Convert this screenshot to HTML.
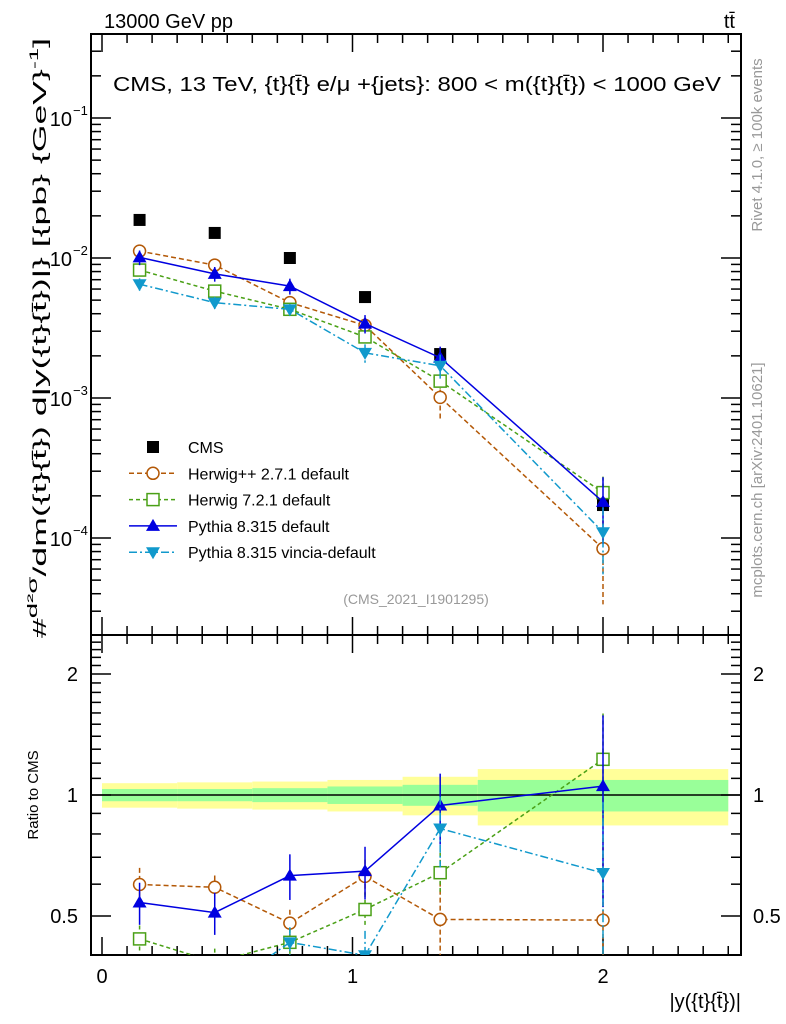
<!DOCTYPE html>
<html><head><meta charset="utf-8"><style>
html,body{margin:0;padding:0;background:#fff;overflow:hidden;width:786px;height:1024px}
svg{display:block;font-family:"Liberation Sans",sans-serif;overflow:hidden}
</style></head><body>
<svg id="c" width="786" height="1024" viewBox="0 0 786 1024" xmlns="http://www.w3.org/2000/svg">
<text x="104" y="28" font-size="20">13000 GeV pp</text>
<text x="735" y="28" font-size="20" text-anchor="end">tt̄</text>
<text x="113" y="91" font-size="20" textLength="608" lengthAdjust="spacingAndGlyphs">CMS, 13 TeV, {t}{t̄} e/μ +{jets}: 800 &lt; m({t}{t̄}) &lt; 1000 GeV</text>
<text transform="translate(46,638) rotate(-90)" font-size="18" textLength="600" lengthAdjust="spacingAndGlyphs">#<tspan font-size="14" dy="-9">d²σ</tspan><tspan dy="9">/dm({t}{t̄})</tspan> d|y({t}{t̄})|} [{pb} {GeV}<tspan font-size="12" dy="-8">-1</tspan><tspan dy="8">]</tspan></text>
<text transform="translate(762,145) rotate(-90)" font-size="15" fill="#999" text-anchor="middle">Rivet 4.1.0, ≥ 100k events</text>
<text transform="translate(762,480) rotate(-90)" font-size="15" fill="#999" text-anchor="middle">mcplots.cern.ch [arXiv:2401.10621]</text>
<text x="416" y="604" font-size="14" fill="#999" text-anchor="middle">(CMS_2021_I1901295)</text>
<text transform="translate(38,795) rotate(-90)" font-size="15" text-anchor="middle">Ratio to CMS</text>
<text x="741" y="1008" font-size="20" text-anchor="end">|y({t}{t̄})|</text>
<g id="g"></g>
</svg>
<script>
const xCenters=[0.15,0.45,0.75,1.05,1.35,2.0];
const binEdges=[0,0.3,0.6,0.9,1.2,1.5,2.5];
const cmsVals=[0.0187,0.0151,0.0100,0.00526,0.00206,0.000172];
const cmsErr=[0.07,0.075,0.08,0.09,0.11,0.16];
const cmsErrInner=[0.035,0.035,0.04,0.05,0.06,0.09];
const herwigppVals=[0.0112,0.0089,0.0048,0.0033,0.00101,0.000084];
const herwigppErr=[0.1,0.07,0.08,0.1,0.3,0.6];
const herwig7Vals=[0.0082,0.0058,0.0043,0.00273,0.00132,0.000211];
const herwig7Err=[0.08,0.08,0.08,0.1,0.12,0.3];
const pythiaVals=[0.0101,0.0077,0.0063,0.0034,0.00194,0.000181];
const pythiaErr=[0.12,0.12,0.13,0.15,0.2,0.5];
const vinciaVals=[0.0065,0.0048,0.0043,0.0021,0.0017,0.00011];
const vinciaErr=[0.1,0.1,0.09,0.15,0.2,0.5];
const xTicks=[0,1,2];
const yDecades=[-4,-3,-2,-1];
const ratioTicks=[0.5,1,2];

const NS="http://www.w3.org/2000/svg";
const G=document.getElementById('g');
const L=91,R=741,T=34,M=635,B=955;
const X=v=>102+v*250.5;
const Y=v=>118-(Math.log10(v)+1)*140;
const RY=r=>795-Math.log2(r)*121;
function mk(tag,at,parent){const e=document.createElementNS(NS,tag);for(const k in at)e.setAttribute(k,at[k]);(parent||G).appendChild(e);return e;}

binEdges.slice(0,-1).forEach((e0,i)=>{
  const e1=binEdges[i+1];
  const y=mk('rect',{x:X(e0),y:RY(1+cmsErr[i]),width:X(e1)-X(e0),height:RY(1-cmsErr[i])-RY(1+cmsErr[i]),fill:'#ffff99'});
  
  
  const g=mk('rect',{x:X(e0),y:RY(1+cmsErrInner[i]),width:X(e1)-X(e0),height:RY(1-cmsErrInner[i])-RY(1+cmsErrInner[i]),fill:'#99ff99'});
  
  
});
mk('line',{x1:L,x2:R,y1:RY(1),y2:RY(1),stroke:'#000','stroke-width':1.5});

const f1=mk('rect',{x:L,y:T,width:R-L,height:M-T,fill:'none',stroke:'#000','stroke-width':2});


const f2=mk('rect',{x:L,y:M,width:R-L,height:B-M,fill:'none',stroke:'#000','stroke-width':2});



for(let v=0;v<=2.55;v+=0.1){
  const maj=Math.abs(v-Math.round(v))<1e-6;const len=maj?18:9;const x=X(v);
  mk('line',{x1:x,x2:x,y1:T,y2:T+len,stroke:'#000','stroke-width':1.5});
  mk('line',{x1:x,x2:x,y1:M,y2:M-len,stroke:'#000','stroke-width':1.5});
  mk('line',{x1:x,x2:x,y1:M,y2:M+len,stroke:'#000','stroke-width':1.5});
  mk('line',{x1:x,x2:x,y1:B,y2:B-len,stroke:'#000','stroke-width':1.5});
}
xTicks.forEach(v=>{const t=mk('text',{x:X(v),y:983,'font-size':20,'text-anchor':'middle'});t.textContent=v;
  
  });

for(let d=-5;d<=-1;d++){for(let m=1;m<=9;m++){const v=m*Math.pow(10,d);const y=Y(v);if(y<T||y>M)continue;const len=m==1?20:10;
  mk('line',{x1:L,x2:L+len,y1:y,y2:y,stroke:'#000','stroke-width':1.5});
  mk('line',{x1:R,x2:R-len,y1:y,y2:y,stroke:'#000','stroke-width':1.5});}}
yDecades.forEach(d=>{const t=mk('text',{x:72,y:Y(Math.pow(10,d))+8,'font-size':20,'text-anchor':'end'});t.textContent='10';
  
  
  const s=mk('text',{x:73,y:Y(Math.pow(10,d))-3,'font-size':13});s.textContent='−'+(-d);});

for(let r=0.4;r<=2.5;r+=0.1){const y=RY(r);if(y<M||y>B)continue;
  const maj=[0.5,1,2].some(q=>Math.abs(q-r)<1e-6);const len=maj?20:10;
  mk('line',{x1:L,x2:L+len,y1:y,y2:y,stroke:'#000','stroke-width':1.5});
  mk('line',{x1:R,x2:R-len,y1:y,y2:y,stroke:'#000','stroke-width':1.5});}
ratioTicks.forEach(r=>{
  const a=mk('text',{x:78,y:RY(r)+7,'font-size':20,'text-anchor':'end'});a.textContent=r;
  
  
  const b=mk('text',{x:753,y:RY(r)+7,'font-size':20});b.textContent=r;
  
  });

const defs=mk('defs',{});
const c1=mk('clipPath',{id:'cm'},defs);mk('rect',{x:L,y:T,width:R-L,height:M-T},c1);
const c2=mk('clipPath',{id:'cr'},defs);mk('rect',{x:L,y:M,width:R-L,height:B-M},c2);

function marker(kind,x,y,col,parent){
  if(kind=='circle')return mk('circle',{cx:x,cy:y,r:6,fill:'#fff',stroke:col,'stroke-width':1.5},parent);
  if(kind=='square')return mk('rect',{x:x-6,y:y-6,width:12,height:12,fill:'#fff',stroke:col,'stroke-width':1.5},parent);
  if(kind=='up')return mk('path',{d:`M${x-7},${y+5}L${x+7},${y+5}L${x},${y-7}Z`,fill:col},parent);
  if(kind=='down')return mk('path',{d:`M${x-7},${y-5}L${x+7},${y-5}L${x},${y+7}Z`,fill:col},parent);
  return mk('rect',{x:x-6,y:y-6,width:12,height:12,fill:col},parent);
}
const series=[
 {name:'herwigpp',vals:herwigppVals,err:herwigppErr,col:'#b35806',dash:'5,3',m:'circle'},
 {name:'herwig7',vals:herwig7Vals,err:herwig7Err,col:'#4aa016',dash:'4,3',m:'square'},
 {name:'pythia',vals:pythiaVals,err:pythiaErr,col:'#0000e0',dash:'',m:'up'},
 {name:'vincia',vals:vinciaVals,err:vinciaErr,col:'#1199cc',dash:'8,3,2,3',m:'down'}];

const gm=mk('g',{'clip-path':'url(#cm)'});
cmsVals.forEach((v,i)=>{const r=marker('sq',X(xCenters[i]),Y(v),'#000',gm);
  
  });

series.forEach(s=>{
  const g1=mk('g',{'clip-path':'url(#cm)'});
  
  
  const g2=mk('g',{'clip-path':'url(#cr)'});
  
  
  const pts=s.vals.map((v,i)=>[X(xCenters[i]),Y(v)]);
  const rpts=s.vals.map((v,i)=>[X(xCenters[i]),RY(v/cmsVals[i])]);
  mk('polyline',{points:pts.join(' '),fill:'none',stroke:s.col,'stroke-width':1.5,'stroke-dasharray':s.dash},g1);
  mk('polyline',{points:rpts.join(' '),fill:'none',stroke:s.col,'stroke-width':1.5,'stroke-dasharray':s.dash},g2);
  s.vals.forEach((v,i)=>{
    const x=X(xCenters[i]),e=s.err[i];
    mk('line',{x1:x,x2:x,y1:Y(v*(1+e)),y2:Y(v*Math.max(0.05,1-e)),stroke:s.col,'stroke-width':1.5,'stroke-dasharray':s.dash},g1);
    mk('line',{x1:x,x2:x,y1:RY(v*(1+e)/cmsVals[i]),y2:RY(v*Math.max(0.05,1-e)/cmsVals[i]),stroke:s.col,'stroke-width':1.5,'stroke-dasharray':s.dash},g2);
    const p=marker(s.m,x,Y(v),s.col,g1);
    
    
    const q=marker(s.m,x,RY(v/cmsVals[i]),s.col,g2);
    
    
  });
});

const lg=mk('g',{});


const labels=['CMS','Herwig++ 2.7.1 default','Herwig 7.2.1 default','Pythia 8.315 default','Pythia 8.315 vincia-default'];
labels.forEach((lab,i)=>{
  const y=447+i*26.3;
  const e=mk('g',{},lg);
  
  
  if(i==0){marker('sq',153,y,'#000',e);}
  else{const s=series[i-1];mk('line',{x1:129,x2:177,y1:y,y2:y,stroke:s.col,'stroke-width':1.5,'stroke-dasharray':s.dash},e);marker(s.m,153,y,s.col,e);}
  const t=mk('text',{x:188,y:y+6,'font-size':16},e);t.textContent=lab;
});
</script>
</body></html>
